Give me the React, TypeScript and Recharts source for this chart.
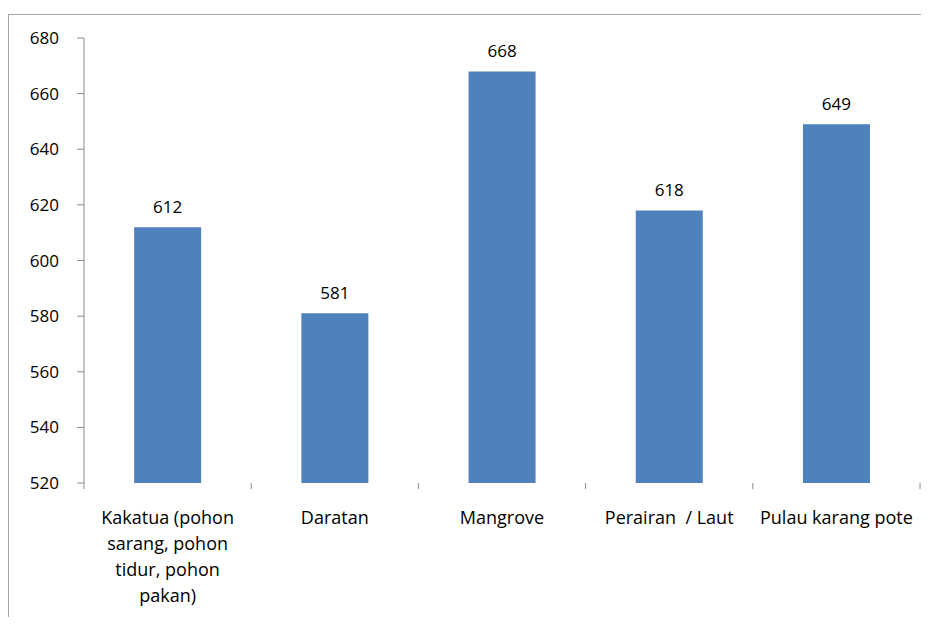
import React from 'react';
import { BarChart, Bar, XAxis, YAxis, LabelList } from 'recharts';

// Habitat categories and the counts recorded for each
const categories = [
  'Kakatua (pohon sarang, pohon tidur, pohon pakan)',
  'Daratan',
  'Mangrove',
  'Perairan  / Laut',
  'Pulau karang pote',
];
const values = [612, 581, 668, 618, 649];

// Wrapped lines for the category labels
const tickLines = [
  ['Kakatua (pohon', 'sarang, pohon', 'tidur, pohon', 'pakan)'],
  ['Daratan'],
  ['Mangrove'],
  ['Perairan  / Laut'],
  ['Pulau karang pote'],
];
const yTicks = [520, 540, 560, 580, 600, 620, 640, 660, 680];

const data = categories.map((name, i) => ({ name, value: values[i] }));

const FONT = '"Open Sans", sans-serif';
const NUM_SIZE = 17;
const CAT_SIZE = 18;
const AXIS_COLOR = '#8c8c8c';
const TEXT_COLOR = '#000';
const BAR_COLOR = '#4f81bd';

// Category tick: marks sit on the boundaries between categories
const CategoryTick = (props: any) => {
  const { x, y, payload, index, visibleTicksCount } = props;
  const half = payload?.offset ?? 0;
  const lines = tickLines[index] ?? [String(payload.value)];
  return (
    <g>
      <line x1={x - half} x2={x - half} y1={y} y2={y + 6} stroke={AXIS_COLOR} strokeWidth={1} />
      {index === visibleTicksCount - 1 && (
        <line x1={x + half} x2={x + half} y1={y} y2={y + 6} stroke={AXIS_COLOR} strokeWidth={1} />
      )}
      <text
        x={x}
        y={y + 41}
        textAnchor="middle"
        fill={TEXT_COLOR}
        fontSize={CAT_SIZE}
        fontFamily={FONT}
        style={{ whiteSpace: 'pre' }}
      >
        {lines.map((line, i) => (
          <tspan key={i} x={x} dy={i === 0 ? 0 : 26}>
            {line}
          </tspan>
        ))}
      </text>
    </g>
  );
};

export default function App() {
  return (
    <div style={{ paddingTop: 6, marginBottom: -8 }}>
      <div
        style={{
          width: 920,
          height: 610,
          borderTop: '1px solid #a6a6a6',
          borderLeft: '1px solid #a6a6a6',
        }}
      >
        <BarChart
          width={920}
          height={600}
          data={data}
          margin={{ top: 23, right: 9, left: 0, bottom: 12 }}
          barCategoryGap="30%"
        >
          <XAxis
            dataKey="name"
            axisLine={false}
            tickLine={false}
            tickSize={0}
            tickMargin={0}
            interval={0}
            height={120}
            tick={<CategoryTick />}
          />
          <YAxis
            domain={[520, 680]}
            ticks={yTicks}
            width={75}
            axisLine={{ stroke: AXIS_COLOR }}
            tickLine={{ stroke: AXIS_COLOR }}
            tickSize={7}
            tickMargin={18}
            tick={{ fill: TEXT_COLOR, fontSize: NUM_SIZE, fontFamily: FONT }}
            allowDataOverflow
          />
          <Bar dataKey="value" fill={BAR_COLOR} isAnimationActive={false}>
            <LabelList
              dataKey="value"
              position="top"
              offset={14}
              fill={TEXT_COLOR}
              fontSize={NUM_SIZE}
              fontFamily={FONT}
            />
          </Bar>
        </BarChart>
      </div>
    </div>
  );
}
